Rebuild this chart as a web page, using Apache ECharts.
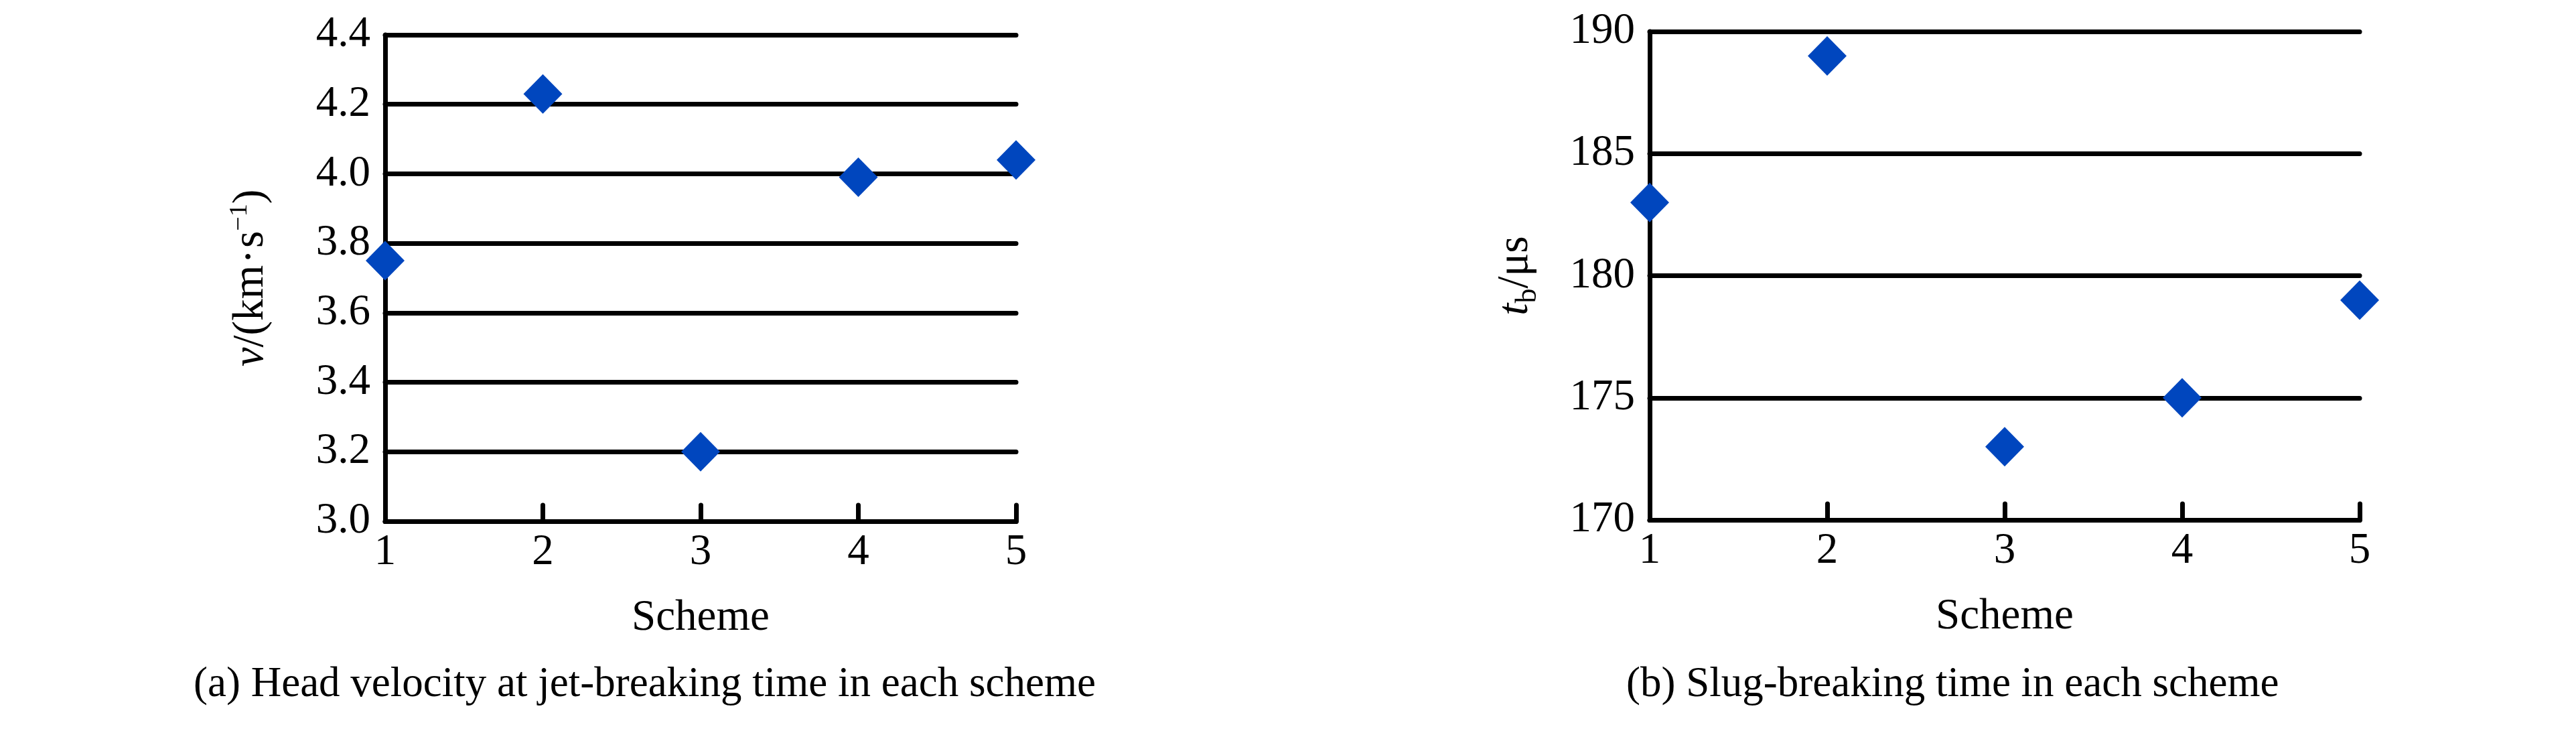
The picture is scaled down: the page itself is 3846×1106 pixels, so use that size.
<!DOCTYPE html>
<html>
<head>
<meta charset="utf-8">
<script src="https://cdn.jsdelivr.net/npm/echarts@6/dist/echarts.min.js"></script>
<style>
html,body{margin:0;padding:0;background:#fff;}
#c{width:3846px;height:1106px;}
</style>
</head>
<body>
<div id="c"></div>
<script>
const schemes = [1, 2, 3, 4, 5];
const headVelocity = [3.75, 4.23, 3.20, 3.99, 4.04];
const slugBreakTime = [183, 189, 173, 175, 179];
const velocityTicks = { min: 3.0, max: 4.4, interval: 0.2 };
const timeTicks = { min: 170, max: 190, interval: 5 };
const captions = ['(a) Head velocity at jet-breaking time in each scheme', '(b) Slug-breaking time in each scheme'];

const FONT = "'Liberation Serif', serif";
const FS = 65;
const CAP_FS = 63;
const BLUE = '#0046BE';
const LW = 7;

function xAxisCfg(gridIndex) {
  return {
    gridIndex, type: 'value', min: 1, max: 5, interval: 1,
    name: 'Scheme', nameLocation: 'middle', nameGap: 112,
    nameTextStyle: { fontFamily: FONT, fontSize: FS, color: '#000' },
    axisLine: { show: true, lineStyle: { color: '#000', width: LW } },
    axisTick: { show: true, inside: true, length: 24, lineStyle: { color: '#000', width: LW, cap: 'round' } },
    axisLabel: { margin: 14, fontFamily: FONT, fontSize: FS, color: '#000' },
    splitLine: { show: false }
  };
}
function yAxisCfg(gridIndex, t, name, rich, fmt) {
  return {
    gridIndex, type: 'value', min: t.min, max: t.max, interval: t.interval,
    name, nameLocation: 'middle', nameRotate: 90, nameGap: 164,
    nameTextStyle: { fontFamily: FONT, fontSize: FS, color: '#000', rich },
    axisLine: { show: true, lineStyle: { color: '#000', width: LW } },
    axisTick: { show: false },
    axisLabel: { margin: 22, fontFamily: FONT, fontSize: FS, color: '#000', formatter: fmt },
    splitLine: { show: true, lineStyle: { color: '#000', width: LW, cap: 'round' } }
  };
}

const richBase = { fontFamily: FONT, fontSize: FS, color: '#000', lineHeight: 72 };
const richV = {
  i: Object.assign({}, richBase, { fontStyle: 'italic' }),
  n: Object.assign({}, richBase),
  d: Object.assign({}, richBase, { padding: [0, 2, 0, 2] }),
  sup: { fontFamily: FONT, fontSize: 38, color: '#000', lineHeight: 40, verticalAlign: 'top' }
};
const richT = {
  i: Object.assign({}, richBase, { fontStyle: 'italic' }),
  n: Object.assign({}, richBase),
  sub: { fontFamily: FONT, fontSize: 44, color: '#000', lineHeight: 44, verticalAlign: 'bottom', padding: [0, 0, -4, 0] }
};

const chart = echarts.init(document.getElementById('c'), null, { renderer: 'canvas' });
chart.setOption({
  backgroundColor: '#fff',
  animation: false,
  textStyle: { fontFamily: FONT, color: '#000' },
  grid: [
    { left: 575, top: 52, width: 942, height: 726 },
    { left: 2463, top: 47, width: 1060, height: 729 }
  ],
  xAxis: [xAxisCfg(0), xAxisCfg(1)],
  yAxis: [
    yAxisCfg(0, velocityTicks, '{i|v}{n|/(km}{d|·}{n|s}{sup|−1}{n|)}', richV, v => v.toFixed(1)),
    yAxisCfg(1, timeTicks, '{i|t}{sub|b}{n|/μs}', richT, v => String(v))
  ],
  graphic: [
    { type: 'text', left: 969 - 680, top: 991, style: { text: captions[0], font: CAP_FS + 'px ' + FONT, fill: '#000', width: 1360, align: 'center' }, z: 10 },
    { type: 'text', left: 2968 - 540, top: 991, style: { text: captions[1], font: CAP_FS + 'px ' + FONT, fill: '#000', width: 1080, align: 'center' }, z: 10 }
  ],
  series: [
    { type: 'scatter', xAxisIndex: 0, yAxisIndex: 0, clip: false, symbol: 'diamond', symbolSize: [58, 59],
      itemStyle: { color: BLUE, opacity: 1 }, data: schemes.map((s, i) => [s, headVelocity[i]]), z: 5 },
    { type: 'scatter', xAxisIndex: 1, yAxisIndex: 1, clip: false, symbol: 'diamond', symbolSize: [58, 59],
      itemStyle: { color: BLUE, opacity: 1 }, data: schemes.map((s, i) => [s, slugBreakTime[i]]), z: 5 }
  ]
});
</script>
</body>
</html>
